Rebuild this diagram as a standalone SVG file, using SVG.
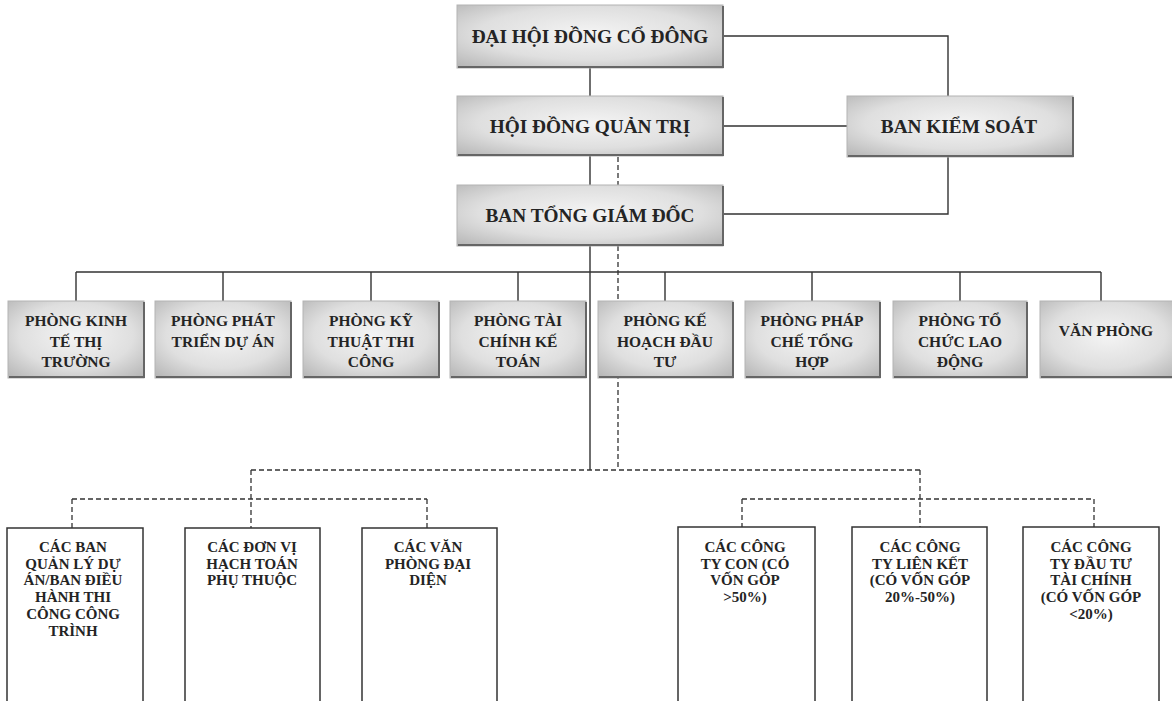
<svg xmlns="http://www.w3.org/2000/svg" width="1172" height="701" viewBox="0 0 1172 701">
<defs>
<radialGradient id="g" cx="50%" cy="45%" r="70%">
<stop offset="0" stop-color="#f4f4f4"/>
<stop offset="0.6" stop-color="#dfdfdf"/>
<stop offset="1" stop-color="#b9b9b9"/>
</radialGradient>
<style>
.bx{fill:url(#g);stroke:#b4b4b4;stroke-width:1}
.sh{stroke:#666;stroke-width:2;fill:none}
.wb{fill:#fff;stroke:#333;stroke-width:1.5}
.t{font-family:"Liberation Serif","Times New Roman",serif;font-weight:bold;fill:#242424;text-anchor:middle}
.t1{font-size:19.3px}
.t2{font-size:15.5px}
.t3{font-size:15px}
.ln{stroke:#333;stroke-width:1.4;fill:none}
.ds{stroke:#333;stroke-width:1.3;fill:none;stroke-dasharray:5 3}
</style>
</defs>
<rect width="1172" height="701" fill="#fff"/>
<g id="connectors">
<path class="ln" d="M723 36H948V96M723 126H848M948 157V214H723M590 68V96M590 156V185M590 246V470"/>
<path class="ln" d="M76 272H1101M76 272V301M223 272V301M371 272V301M518 272V301M665 272V301M812 272V301M960 272V301M1101 272V301"/>
<path class="ds" d="M618 157V185M618 246V470M251 470H920M251 470V528M72 499H427M72 499V528M427 499V528M920 470V527M742 499H1094M742 499V527M1094 499V527"/>
</g>
<g id="dhdcd"><rect class="bx" x="457" y="5" width="266" height="63"/><path class="sh" d="M458 67H723V6"/><text class="t t1" x="590" y="43">ĐẠI HỘI ĐỒNG CỔ ĐÔNG</text></g>
<g id="hdqt"><rect class="bx" x="457" y="96" width="266" height="60"/><path class="sh" d="M458 155H723V97"/><text class="t t1" x="590" y="133">HỘI ĐỒNG QUẢN TRỊ</text></g>
<g id="bks"><rect class="bx" x="847" y="96" width="226" height="61"/><path class="sh" d="M848 156H1073V97"/><text class="t t1" x="959" y="133">BAN KIỂM SOÁT</text></g>
<g id="btgd"><rect class="bx" x="457" y="185" width="266" height="61"/><path class="sh" d="M458 245H723V186"/><text class="t t1" x="590" y="222">BAN TỔNG GIÁM ĐỐC</text></g>
<g id="p1"><rect class="bx" x="8" y="301" width="136" height="77"/><path class="sh" d="M9 377H144V302"/><text class="t t2" x="76" y="326">PHÒNG KINH<tspan x="76" dy="20.5">TẾ THỊ</tspan><tspan x="76" dy="20.5">TRƯỜNG</tspan></text></g>
<g id="p2"><rect class="bx" x="155" y="301" width="136" height="77"/><path class="sh" d="M156 377H291V302"/><text class="t t2" x="223" y="326">PHÒNG PHÁT<tspan x="223" dy="20.5">TRIỂN DỰ ÁN</tspan></text></g>
<g id="p3"><rect class="bx" x="303" y="301" width="136" height="77"/><path class="sh" d="M304 377H439V302"/><text class="t t2" x="371" y="326">PHÒNG KỸ<tspan x="371" dy="20.5">THUẬT THI</tspan><tspan x="371" dy="20.5">CÔNG</tspan></text></g>
<g id="p4"><rect class="bx" x="450" y="301" width="136" height="77"/><path class="sh" d="M451 377H586V302"/><text class="t t2" x="518" y="326">PHÒNG TÀI<tspan x="518" dy="20.5">CHÍNH KẾ</tspan><tspan x="518" dy="20.5">TOÁN</tspan></text></g>
<g id="p5"><rect class="bx" x="598" y="301" width="135" height="77"/><path class="sh" d="M599 377H733V302"/><text class="t t2" x="665" y="326">PHÒNG KẾ<tspan x="665" dy="20.5">HOẠCH ĐẦU</tspan><tspan x="665" dy="20.5">TƯ</tspan></text></g>
<g id="p6"><rect class="bx" x="745" y="301" width="135" height="77"/><path class="sh" d="M746 377H880V302"/><text class="t t2" x="812" y="326">PHÒNG PHÁP<tspan x="812" dy="20.5">CHẾ TỔNG</tspan><tspan x="812" dy="20.5">HỢP</tspan></text></g>
<g id="p7"><rect class="bx" x="893" y="301" width="134" height="77"/><path class="sh" d="M894 377H1027V302"/><text class="t t2" x="960" y="326">PHÒNG TỔ<tspan x="960" dy="20.5">CHỨC LAO</tspan><tspan x="960" dy="20.5">ĐỘNG</tspan></text></g>
<g id="p8"><rect class="bx" x="1040" y="301" width="136" height="77"/><path class="sh" d="M1041 377H1172"/><text class="t t2" x="1106" y="336">VĂN PHÒNG</text></g>
<g id="b1"><rect class="wb" x="7" y="528" width="136" height="190"/><text class="t t3" x="73" y="552">CÁC BAN<tspan x="73" dy="16.7">QUẢN LÝ DỰ</tspan><tspan x="73" dy="16.7">ÁN/BAN ĐIỀU</tspan><tspan x="73" dy="16.7">HÀNH THI</tspan><tspan x="73" dy="16.7">CÔNG CÔNG</tspan><tspan x="73" dy="16.7">TRÌNH</tspan></text></g>
<g id="b2"><rect class="wb" x="185" y="528" width="135" height="190"/><text class="t t3" x="252" y="552">CÁC ĐƠN VỊ<tspan x="252" dy="16.7">HẠCH TOÁN</tspan><tspan x="252" dy="16.7">PHỤ THUỘC</tspan></text></g>
<g id="b3"><rect class="wb" x="362" y="528" width="135" height="190"/><text class="t t3" x="428" y="552">CÁC VĂN<tspan x="428" dy="16.7">PHÒNG ĐẠI</tspan><tspan x="428" dy="16.7">DIỆN</tspan></text></g>
<g id="b4"><rect class="wb" x="678" y="527" width="137" height="190"/><text class="t t3" x="745" y="552">CÁC CÔNG<tspan x="745" dy="16.7">TY CON (CÓ</tspan><tspan x="745" dy="16.7">VỐN GÓP</tspan><tspan x="745" dy="16.7">&gt;50%)</tspan></text></g>
<g id="b5"><rect class="wb" x="852" y="527" width="135" height="190"/><text class="t t3" x="920" y="552">CÁC CÔNG<tspan x="920" dy="16.7">TY LIÊN KẾT</tspan><tspan x="920" dy="16.7">(CÓ VỐN GÓP</tspan><tspan x="920" dy="16.7">20%-50%)</tspan></text></g>
<g id="b6"><rect class="wb" x="1023" y="527" width="136" height="190"/><text class="t t3" x="1091" y="552">CÁC CÔNG<tspan x="1091" dy="16.7">TY ĐẦU TƯ</tspan><tspan x="1091" dy="16.7">TÀI CHÍNH</tspan><tspan x="1091" dy="16.7">(CÓ VỐN GÓP</tspan><tspan x="1091" dy="16.7">&lt;20%)</tspan></text></g>
</svg>
